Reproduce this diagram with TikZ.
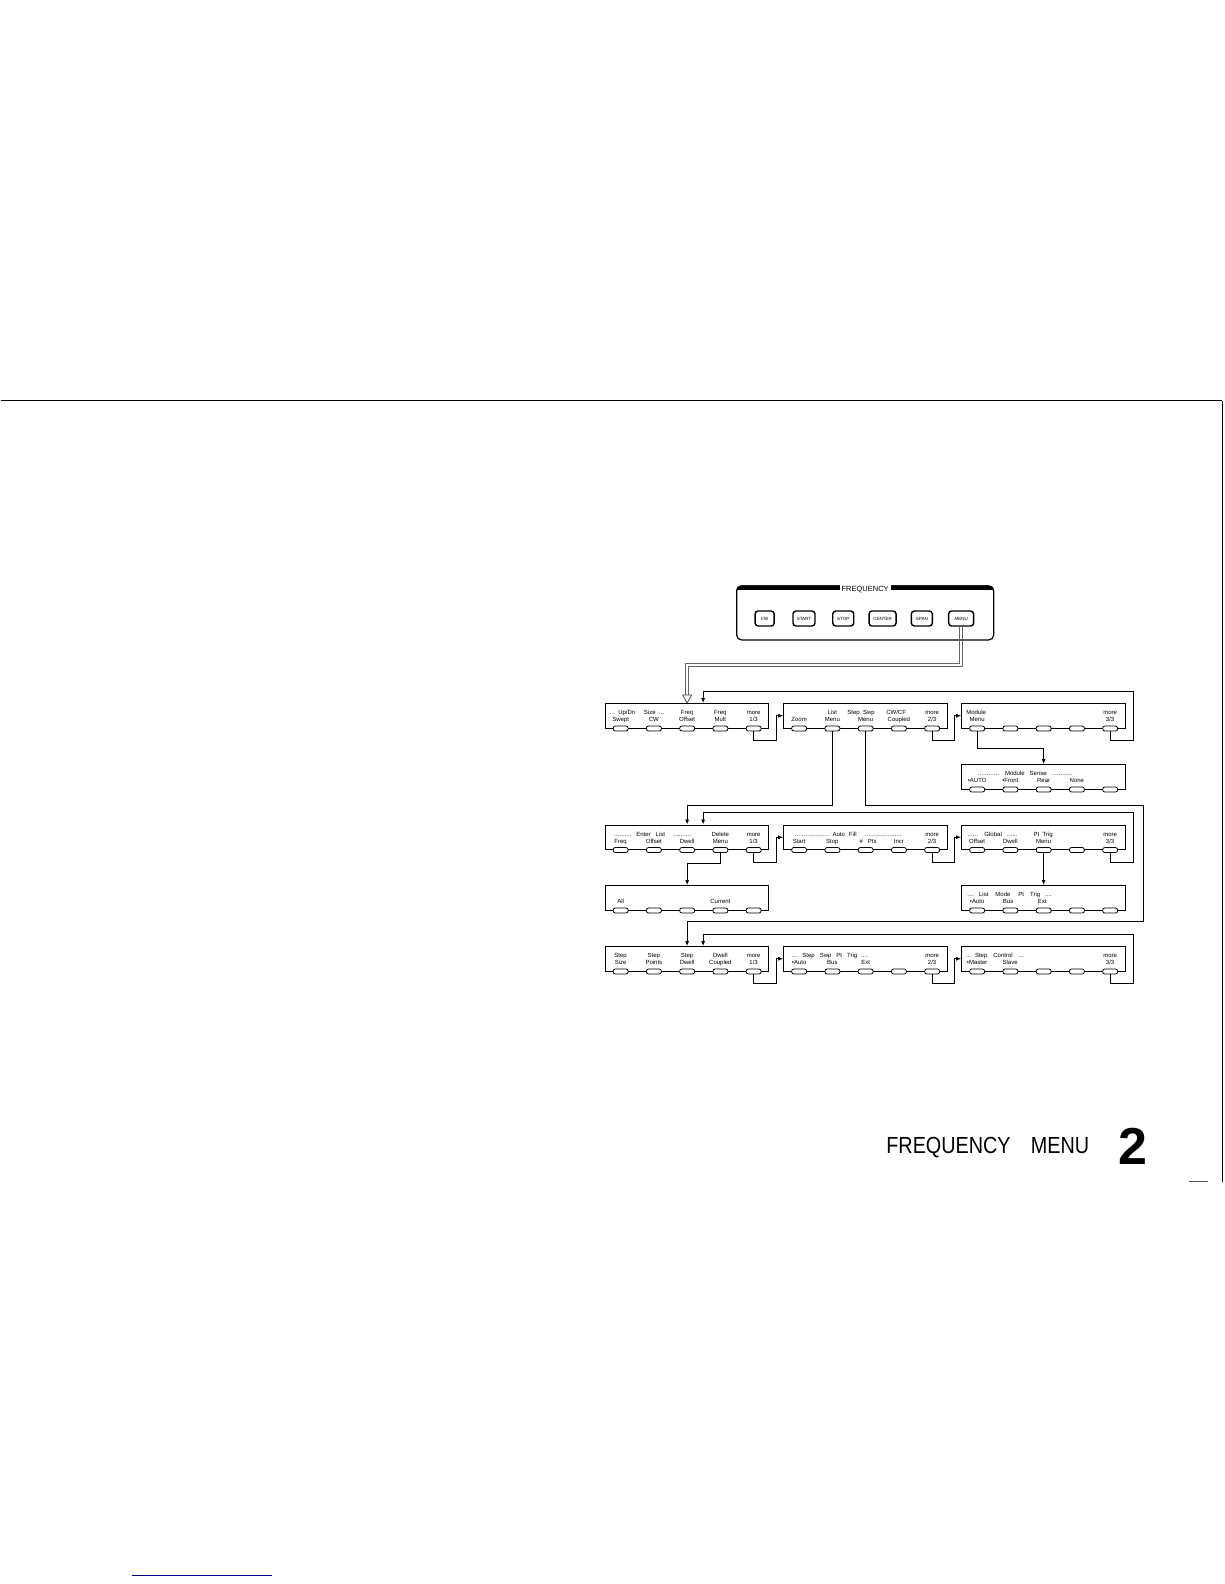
\documentclass[tikz,border=0pt]{standalone}
\usepackage{fontspec}
\setmainfont{Liberation Sans}
\usetikzlibrary{arrows.meta}
\newcommand\dotrun[1]{\hbox to #1pt{\leaders\hbox to 1.75pt{\hss.\hss}\hfill}}
\newcount\labn
\newcommand\menubx[3]{%
  \node[mbox] (#1) at (#2,#3) {};
  \foreach \i/\o in {1/16,2/49.25,3/82.5,4/115.75,5/149}{%
    \node[skey] (#1-k\i) at ([xshift=\o pt]#1.south west) {};}%
}
\newcommand\lab[4]{%
  \global\advance\labn by 1
  \ifnum#3=1 \def\labdy{11.7}\else\def\labdy{18.7}\fi
  \node[txt] (lab\the\labn) at ([xshift=#2pt,yshift=-\labdy pt]#1.north west) {#4};%
}
\begin{document}
\begin{tikzpicture}[x=1pt,y=-1pt,
  mbox/.style={draw, line width=1pt, minimum width=163.5pt, minimum height=24.5pt, inner sep=0pt, anchor=north west},
  skey/.style={draw, line width=0.8pt, fill=white, rounded corners=2.2pt, minimum width=15pt, minimum height=5pt, inner sep=0pt},
  txt/.style={font=\fontsize{6}{6}\selectfont, inner sep=0pt, anchor=base},
  arr/.style={line width=0.8pt, -{Latex[length=5pt,width=4pt]}},
  dline/.style={draw=black!60, line width=0.7pt},
  hol/.style={draw=black!75, line width=0.7pt, fill=white},
  pbtn/.style={draw, line width=1.4pt, rounded corners=3pt, minimum height=15pt, inner sep=0pt, font=\fontsize{4.5}{4.5}\selectfont}
]
\path (0,0) rectangle (1224,1584);

% page frame
\draw[line width=1.3pt] (0,400.5) -- (1221.5,400.5);
\draw[line width=1pt] (1221.5,400.5) -- (1221.5,1182);
\draw[line width=0.8pt, black!70] (1188,1181.5) -- (1207,1181.5);
\draw[line width=0.8pt, blue!50!black] (131,1575.5) -- (271,1575.5);

% title
\node[anchor=base west, inner sep=0pt, font=\fontsize{23.3}{24}\selectfont] (ttl1) at (885.5,1153.3) {\scalebox{0.85}[1]{FREQUENCY}};
\node[anchor=base west, inner sep=0pt, font=\fontsize{23.3}{24}\selectfont] (ttl2) at (1030,1153.3) {\scalebox{0.85}[1]{MENU}};
\node[anchor=base west, inner sep=0pt, font=\fontsize{52}{52}\selectfont\bfseries] (ttl3) at (1118,1164) {2};

% front panel
\node[draw, line width=1.2pt, rounded corners=5pt, minimum width=257pt, minimum height=54pt, inner sep=0pt] (panel) at (864.5,613) {};
\begin{scope}
\clip[rounded corners=5pt] (panel.north west) rectangle (panel.south east);
\fill (panel.north west) rectangle ([yshift=-5pt]panel.north east);
\end{scope}
\node[fill=white, inner xsep=2pt, inner ysep=2.5pt, font=\fontsize{7.5}{7.5}\selectfont, anchor=base] (freqlab) at ([yshift=-6.5pt]panel.north) {FREQUENCY};
\node[pbtn, minimum width=19pt] (bcw) at (764,618.5) {CW};
\node[pbtn, minimum width=22pt] (bstart) at (803.3,618.5) {START};
\node[pbtn, minimum width=21pt] (bstop) at (842.6,618.5) {STOP};
\node[pbtn, minimum width=27pt] (bcenter) at (881.9,618.5) {CENTER};
\node[pbtn, minimum width=21pt] (bspan) at (921.2,618.5) {SPAN};
\node[pbtn, minimum width=25pt] (bmenu) at (960.5,618.5) {MENU};

% menu boxes
\menubx{r1a}{604}{703}
\menubx{r1b}{782.5}{703}
\menubx{r1c}{960.5}{703}
\menubx{ms}{960.5}{764}
\menubx{r2a}{604}{824.5}
\menubx{r2b}{782.5}{824.5}
\menubx{r2c}{960.5}{824.5}
\menubx{r3a}{604}{885}
\menubx{r3b}{960.5}{885}
\menubx{r4a}{604}{946}
\menubx{r4b}{782.5}{946}
\menubx{r4c}{960.5}{946}

% labels row 1
\lab{r1a}{18}{1}{...\ \ Up/Dn}
\lab{r1a}{49.3}{1}{Size\ \ ...}
\lab{r1a}{82.5}{1}{Freq}
\lab{r1a}{115.75}{1}{Freq}
\lab{r1a}{149}{1}{more}
\lab{r1a}{16}{2}{Swept}
\lab{r1a}{49.25}{2}{CW}
\lab{r1a}{82.5}{2}{Offset}
\lab{r1a}{115.75}{2}{Mult}
\lab{r1a}{149}{2}{1/3}
\lab{r1b}{49.25}{1}{List}
\lab{r1b}{78}{1}{Step\ \ Swp}
\lab{r1b}{113}{1}{CW/CF}
\lab{r1b}{149}{1}{more}
\lab{r1b}{16}{2}{Zoom}
\lab{r1b}{49.25}{2}{Menu}
\lab{r1b}{82.5}{2}{Menu}
\lab{r1b}{115.75}{2}{Coupled}
\lab{r1b}{149}{2}{2/3}
\lab{r1c}{15}{1}{Module}
\lab{r1c}{149}{1}{more}
\lab{r1c}{16}{2}{Menu}
\lab{r1c}{149}{2}{3/3}
% module sense
\lab{ms}{64.7}{1}{\dotrun{22}\hspace{5pt}Module\hspace{5pt}Sense\hspace{5pt}\dotrun{22}}
\lab{ms}{16}{2}{•AUTO}
\lab{ms}{49.25}{2}{•Front}
\lab{ms}{82.5}{2}{Rear}
\lab{ms}{115.75}{2}{None}
% row 2
\lab{r2a}{18.5}{1}{\dotrun{18}}
\lab{r2a}{46}{1}{Enter\hspace{5pt}List}
\lab{r2a}{78.5}{1}{\dotrun{19}}
\lab{r2a}{115.75}{1}{Delete}
\lab{r2a}{149}{1}{more}
\lab{r2a}{16}{2}{Freq}
\lab{r2a}{49.25}{2}{Offset}
\lab{r2a}{82.5}{2}{Dwell}
\lab{r2a}{115.75}{2}{Menu}
\lab{r2a}{149}{2}{1/3}
\lab{r2b}{29}{1}{\dotrun{34}}
\lab{r2b}{61.5}{1}{Auto\hspace{4pt}Fill}
\lab{r2b}{101}{1}{\dotrun{38}}
\lab{r2b}{149}{1}{more}
\lab{r2b}{16}{2}{Start}
\lab{r2b}{49.25}{2}{Stop}
\lab{r2b}{85}{2}{\#\hspace{5pt}Pts}
\lab{r2b}{115.75}{2}{Incr}
\lab{r2b}{149}{2}{2/3}
\lab{r2c}{12.5}{1}{\dotrun{12}}
\lab{r2c}{32}{1}{Global}
\lab{r2c}{51.5}{1}{\dotrun{11}}
\lab{r2c}{82}{1}{Pt\ \ Trig}
\lab{r2c}{149}{1}{more}
\lab{r2c}{16}{2}{Offset}
\lab{r2c}{49.25}{2}{Dwell}
\lab{r2c}{82.5}{2}{Menu}
\lab{r2c}{149}{2}{3/3}
% row 3
\lab{r3a}{16}{2}{All}
\lab{r3a}{115.75}{2}{Current}
\lab{r3b}{48.5}{1}{....\hspace{5pt}List\hspace{7pt}Mode\hspace{8pt}Pt\hspace{6pt}Trig\hspace{5pt}....}
\lab{r3b}{16}{2}{•Auto}
\lab{r3b}{47}{2}{Bus}
\lab{r3b}{81}{2}{Ext}
% row 4
\lab{r4a}{16}{1}{Step}
\lab{r4a}{49.25}{1}{Step}
\lab{r4a}{82.5}{1}{Step}
\lab{r4a}{115.75}{1}{Dwell}
\lab{r4a}{149}{1}{more}
\lab{r4a}{16}{2}{Size}
\lab{r4a}{49.25}{2}{Points}
\lab{r4a}{82.5}{2}{Dwell}
\lab{r4a}{115.75}{2}{Coupled}
\lab{r4a}{149}{2}{1/3}
\lab{r4b}{46.7}{1}{....\hspace{4pt}Step\hspace{5pt}Swp\hspace{5pt}Pt\hspace{5pt}Trig\hspace{4pt}....}
\lab{r4b}{149}{1}{more}
\lab{r4b}{16}{2}{•Auto}
\lab{r4b}{49.25}{2}{Bus}
\lab{r4b}{82.5}{2}{Ext}
\lab{r4b}{149}{2}{2/3}
\lab{r4c}{33.7}{1}{...\hspace{4pt}Step\hspace{6pt}Control\hspace{6pt}...}
\lab{r4c}{149}{1}{more}
\lab{r4c}{16}{2}{•Master}
\lab{r4c}{49}{2}{Slave}
\lab{r4c}{149}{2}{3/3}

% entry coordinates
\coordinate (r1in1) at (r1a.north -| r1a-k3);
\coordinate (r1in2) at ([xshift=98.5pt]r1a.north west);
\coordinate (r2in1) at (r2a.north -| r2a-k3);
\coordinate (r2in2) at ([xshift=98.5pt]r2a.north west);
\coordinate (r3in1) at (r3a.north -| r3a-k3);
\coordinate (r4in1) at (r4a.north -| r4a-k3);
\coordinate (r4in2) at ([xshift=98.5pt]r4a.north west);
\coordinate (msin) at (ms.north -| ms-k3);

% MENU hardkey -> first menu (hollow double line, drawn as two parallel lines)
\draw[dline] ([xshift=-1.5pt]bmenu.south) |- ([xshift=-1.5pt,yshift=40pt]r1in1) -- ([xshift=-1.5pt,yshift=7.5pt]r1in1);
\draw[dline] ([xshift=1.5pt]bmenu.south) |- ([xshift=1.5pt,yshift=37pt]r1in1) -- ([xshift=1.5pt,yshift=7.5pt]r1in1);
\draw[hol] ([xshift=-4.5pt,yshift=8pt]r1in1) -- ([xshift=4.5pt,yshift=8pt]r1in1) -- (r1in1) -- cycle;

% row 1
\draw[arr] (r1a-k5.south) |- ([xshift=-7pt,yshift=-12pt]r1b.south west) |- (r1b.west);
\draw[arr] (r1b-k5.south) |- ([xshift=-7pt,yshift=-12pt]r1c.south west) |- (r1c.west);
\draw[arr] (r1c-k5.south) |- ([xshift=8pt,yshift=-12pt]r1c.south east) |- ([yshift=12pt]r1in2) -- (r1in2);
\draw[arr] (r1c-k1.south) |- ([yshift=16pt]msin) -- (msin);
\draw[arr] (r1b-k2.south) |- ([yshift=19pt]r2in1) -- (r2in1);
\draw[arr] (r1b-k3.south) |- ([xshift=18pt,yshift=19pt]r2c.north east) |- ([yshift=24.5pt]r4in1) -- (r4in1);

% row 2
\draw[arr] (r2a-k5.south) |- ([xshift=-7pt,yshift=-12pt]r2b.south west) |- (r2b.west);
\draw[arr] (r2b-k5.south) |- ([xshift=-7pt,yshift=-12pt]r2c.south west) |- (r2c.west);
\draw[arr] (r2c-k5.south) |- ([xshift=8pt,yshift=-12pt]r2c.south east) |- ([yshift=12pt]r2in2) -- (r2in2);
\draw[arr] (r2a-k4.south) |- ([yshift=22pt]r3in1) -- (r3in1);
\draw[arr] (r2c-k3.south) -- (r2c-k3.south |- r3b.north);

% row 4
\draw[arr] (r4a-k5.south) |- ([xshift=-7pt,yshift=-12pt]r4b.south west) |- (r4b.west);
\draw[arr] (r4b-k5.south) |- ([xshift=-7pt,yshift=-12pt]r4c.south west) |- (r4c.west);
\draw[arr] (r4c-k5.south) |- ([xshift=8pt,yshift=-12pt]r4c.south east) |- ([yshift=12pt]r4in2) -- (r4in2);
\end{tikzpicture}
\end{document}
